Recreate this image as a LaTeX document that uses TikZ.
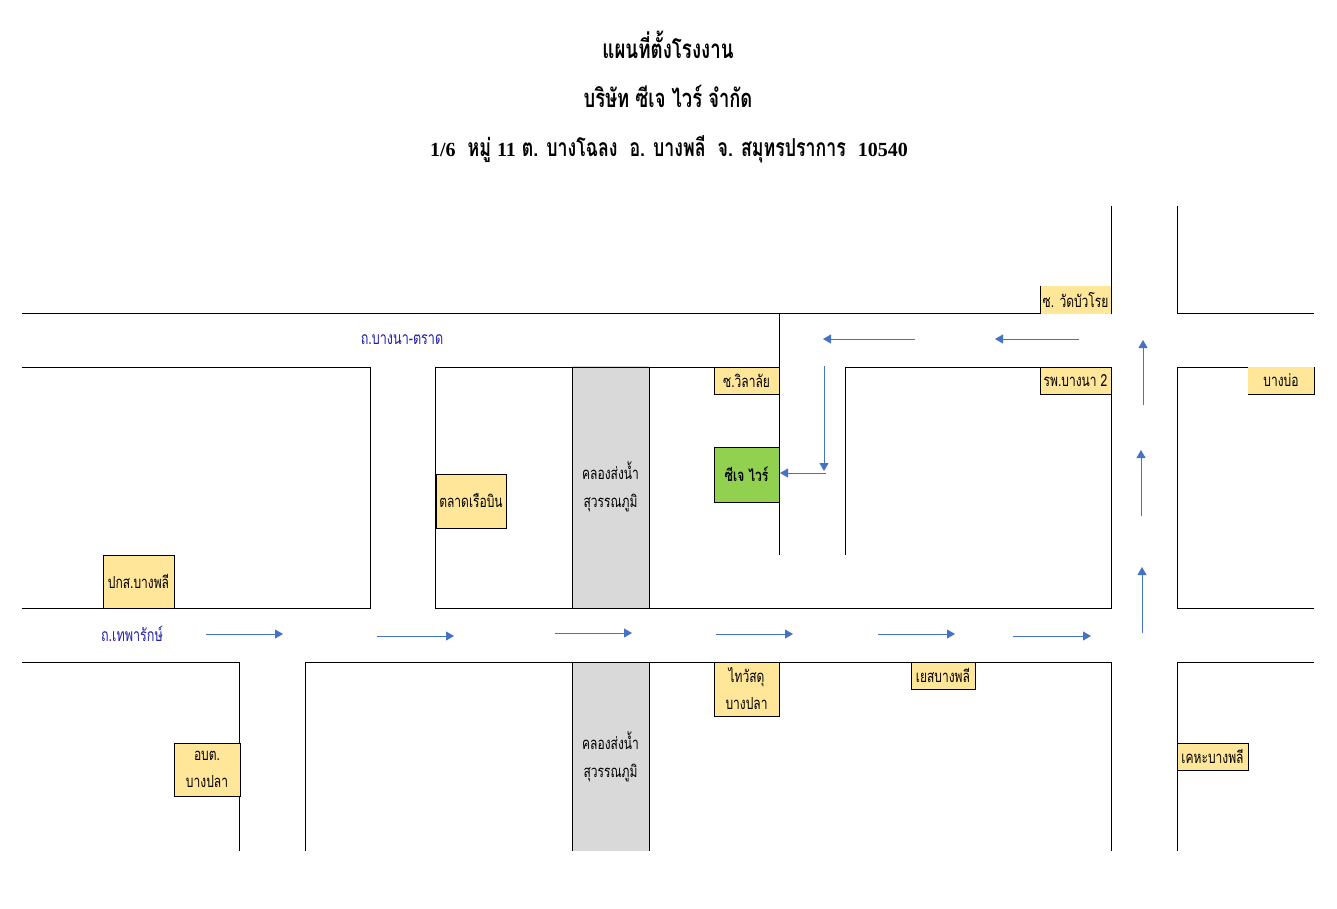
\documentclass[tikz,border=0pt]{standalone}
\usepackage{fontspec}
\usepackage{tikz}
\usetikzlibrary{arrows.meta, positioning}
\setmainfont{Liberation Serif}
\newfontfamily\thaifont[Script=Thai,FakeStretch=0.72]{Loma}
\newcommand{\digitsfont}{\rmfamily\fontsize{20}{22}\selectfont}
\definecolor{place_yellow}{HTML}{FFE699}
\definecolor{plant_green}{HTML}{92D050}
\definecolor{canal_gray}{HTML}{D9D9D9}
\definecolor{way_blue}{HTML}{4472C4}
\definecolor{road_blue}{HTML}{1F1FA8}
\tikzset{
  titletext/.style={inner sep=0,font=\thaifont\bfseries\fontsize{26}{28}\selectfont},
  road/.style={black,line width=1pt},
  way/.style={way_blue,line width=0.9pt,-{Triangle[length=8pt,width=9pt]}},
  place/.style={fill=place_yellow,draw=black,line width=0.8pt,inner sep=0,outer sep=0,align=center,
    font=\thaifont\fontsize{16.7}{27}\selectfont},
  placeopen/.style={place,draw=none},
  plant/.style={place,fill=plant_green,font=\thaifont\bfseries\fontsize{16.7}{27}\selectfont},
  canal/.style={fill=canal_gray,draw=none,inner sep=0,outer sep=0,align=center,minimum width=77pt,
    font=\thaifont\fontsize{16.7}{28}\selectfont},
  roadname/.style={inner sep=0,text=road_blue,font=\thaifont\fontsize{17.5}{19}\selectfont},
}
\begin{document}
\begin{tikzpicture}[x=1pt,y=-1pt]
	    \useasboundingbox (0,0) rectangle (1337,908);
	    % titles
	    \node[titletext] (title1) at (668,45) {แผนที่ตั้งโรงงาน};
	    \node[titletext,font=\thaifont\bfseries\fontsize{25.5}{28}\selectfont] (title2) at (668,96) {บริษัท ซีเจ ไวร์ จำกัด};
	    \node[titletext,font=\thaifont\bfseries\fontsize{24.7}{28}\selectfont] (title3) at (669,149) {{\digitsfont 1/6}\ \ หมู่ {\digitsfont 11} ต. บางโฉลง\ \ อ. บางพลี\ \ จ. สมุทรปราการ\ \ {\digitsfont 10540}};
	    % canal
	    \node[canal,minimum height=242pt] (canal1) at (610.5,487) {คลองส่งน้ำ\\สุวรรณภูมิ};
	    \node[canal,minimum height=189pt] (canal2) at (610.5,756.5) {คลองส่งน้ำ\\สุวรรณภูมิ};
	    % roads
	    \draw[road] (22,313) -- (1111,313) -- (1111,206);
	    \draw[road] (1177,206) -- (1177,313) -- (1314,313);
	    \draw[road] (22,367) -- (370,367) -- (370,608) -- (22,608);
	    \draw[road] (435,608) -- (435,367) -- (779,367);
	    \draw[road] (779,313) -- (779,555);
	    \draw[road] (845,555) -- (845,367) -- (1111,367) -- (1111,608) -- (435,608);
	    \draw[road] (1314,367) -- (1177,367) -- (1177,608) -- (1314,608);
	    \draw[road] (22,662) -- (239,662) -- (239,851);
	    \draw[road] (305,851) -- (305,662) -- (1111,662) -- (1111,851);
	    \draw[road] (1177,851) -- (1177,662) -- (1314,662);
	    \draw[road] (572,367) -- (572,608);
	    \draw[road] (649,367) -- (649,608);
	    \draw[road] (572,662) -- (572,851);
	    \draw[road] (649,662) -- (649,851);
	    % places
	    \node[placeopen,minimum width=71pt,minimum height=28pt] (watbuaroi) at (1075.5,300) {ซ. วัดบัวโรย};
	    \draw[road] (watbuaroi.north west) -- (watbuaroi.south west);
	    \node[place,minimum width=65pt,minimum height=27pt] (wilalai) at (746.5,380.5) {ซ.วิลาลัย};
	    \node[place,minimum width=71pt,minimum height=27pt] (bangna2) at (1075.5,380.5) {รพ.บางนา 2};
	    \node[placeopen,minimum width=66pt,minimum height=27pt] (bangbo) at (1281,380.5) {บางบ่อ};
	    \draw[road] (bangbo.north east) -- (bangbo.south east) -- (bangbo.south west);
	    \node[plant,minimum width=65pt,minimum height=55pt] (cjwire) at (746.5,474.5) {ซีเจ ไวร์};
	    \node[place,minimum width=70pt,minimum height=54pt] (talat) at (471,501) {ตลาดเรือบิน};
	    \node[place,minimum width=71pt,minimum height=53pt] (pakaso) at (138.5,581.5) {ปกส.บางพลี};
	    \node[place,minimum width=66pt,minimum height=53pt] (obt) at (207,769.5) {อบต.\\บางปลา};
	    \node[place,minimum width=65pt,minimum height=54pt] (thaiwatsadu) at (746.5,689) {ไทวัสดุ\\บางปลา};
	    \node[place,minimum width=64pt,minimum height=27pt] (yes) at (943,675.5) {เยสบางพลี};
	    \node[place,minimum width=71pt,minimum height=27pt] (kheha) at (1212.5,756.5) {เคหะบางพลี};
	    % road names
	    \node[roadname] (bangnatrat) at (402,340) {ถ.บางนา-ตราด};
	    \node[roadname] (theparak) at (132,634) {ถ.เทพารักษ์};
	    % way to the plant
	    \draw[way] (206,634) -- (283,634);
	    \draw[way] (377,636) -- (454,636);
	    \draw[way] (555,633) -- (632,633);
	    \draw[way] (716,634) -- (793,634);
	    \draw[way] (878,634) -- (955,634);
	    \draw[way] (1013,636) -- (1091,636);
	    \draw[way] (1142,633) -- (1142,567);
	    \draw[way] (1141,516) -- (1141,450);
	    \draw[way] (1143,405) -- (1143,340);
	    \draw[way] (1079,339) -- (995,339);
	    \draw[way] (915,339) -- (823,339);
	    \draw[way] (824,366) -- (824,471);
	    \coordinate (turn) at (826,473);
	    \draw[way,shorten >=1pt] (turn) -- (turn -| cjwire.east);
\end{tikzpicture}
\end{document}
